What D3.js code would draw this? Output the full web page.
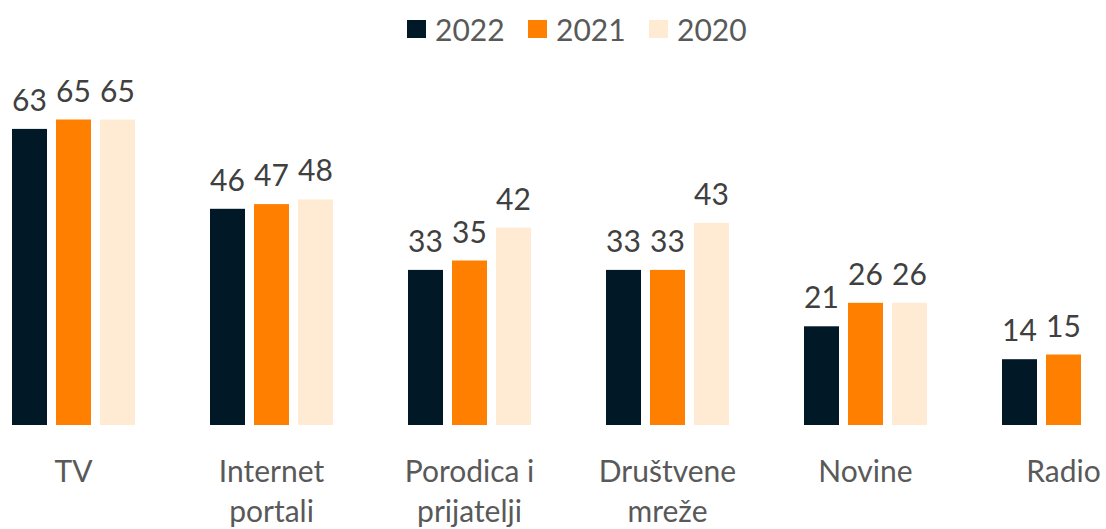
<!DOCTYPE html>
<html>
<head>
<meta charset="utf-8">
<script src="https://cdn.jsdelivr.net/npm/d3@7"></script>
<style>
  body { margin: 0; background: #fff; }
  svg { display: block; font-family: Lato, "Open Sans", sans-serif; }
</style>
</head>
<body>
<div id="chart"></div>
<script>
// data
const categories = ["TV", "Internet portali", "Porodica i prijatelji", "Društvene mreže", "Novine", "Radio"];
const categoryLines = [["TV"], ["Internet", "portali"], ["Porodica i", "prijatelji"], ["Društvene", "mreže"], ["Novine"], ["Radio"]];
const seriesNames = ["2022", "2021", "2020"];
const values2022 = [63, 46, 33, 33, 21, 14];
const values2021 = [65, 47, 35, 33, 26, 15];
const values2020 = [65, 48, 42, 43, 26, null];
const colors = ["#011826", "#FF8000", "#FFEBD3"];

const W = 1106, H = 529;
const baseline = 425;

const svg = d3.select("#chart").append("svg")
  .attr("width", W)
  .attr("height", H);

// scales - the plot runs past the right edge, so Radio 2020 would sit off screen
const x0 = d3.scaleBand()
  .domain(categories)
  .range([-25.5, -25.5 + 198 * categories.length]);

const x1 = d3.scaleBand()
  .domain(seriesNames)
  .range([-66, 66])
  .paddingInner(9 / 44)
  .paddingOuter(4.5 / 44);

const y = d3.scaleLinear()
  .domain([0, 65])
  .range([baseline, 119.5]);

const allValues = [values2022, values2021, values2020];
const rows = [];
categories.forEach((c, i) => {
  seriesNames.forEach((s, j) => {
    const v = allValues[j][i];
    if (v != null) rows.push({ cat: c, series: s, value: v, color: colors[j] });
  });
});

const cx = c => x0(c) + x0.bandwidth() / 2;

// bars
svg.append("g").selectAll("rect")
  .data(rows)
  .enter()
  .append("rect")
  .attr("x", d => cx(d.cat) + x1(d.series))
  .attr("y", d => y(d.value))
  .attr("width", x1.bandwidth())
  .attr("height", d => baseline - y(d.value))
  .attr("fill", d => d.color);

// value labels
svg.append("g").selectAll("text")
  .data(rows)
  .enter()
  .append("text")
  .attr("x", d => cx(d.cat) + x1(d.series) + x1.bandwidth() / 2)
  .attr("y", d => y(d.value) - 18)
  .attr("text-anchor", "middle")
  .attr("fill", "#404040")
  .style("font-size", "30px")
  .text(d => d.value);

// category labels
const catG = svg.append("g").selectAll("text")
  .data(categories)
  .enter()
  .append("text")
  .attr("x", d => cx(d))
  .attr("y", 482)
  .attr("text-anchor", "middle")
  .attr("fill", "#595959")
  .style("font-size", "30px");

catG.selectAll("tspan")
  .data((d, i) => categoryLines[i])
  .enter()
  .append("tspan")
  .attr("x", function() { return d3.select(this.parentNode).attr("x"); })
  .attr("dy", (d, i) => i === 0 ? 0 : 40)
  .text(d => d);

// legend
const legendX = [407, 528, 649];
const legend = svg.append("g").selectAll("g")
  .data(seriesNames)
  .enter()
  .append("g")
  .attr("transform", (d, i) => `translate(${legendX[i]},0)`);

legend.append("rect")
  .attr("x", 0)
  .attr("y", 20)
  .attr("width", 19)
  .attr("height", 18)
  .attr("fill", (d, i) => colors[i]);

legend.append("text")
  .attr("x", 28)
  .attr("y", 41)
  .attr("fill", "#595959")
  .style("font-size", "30px")
  .text(d => d);
</script>
</body>
</html>
